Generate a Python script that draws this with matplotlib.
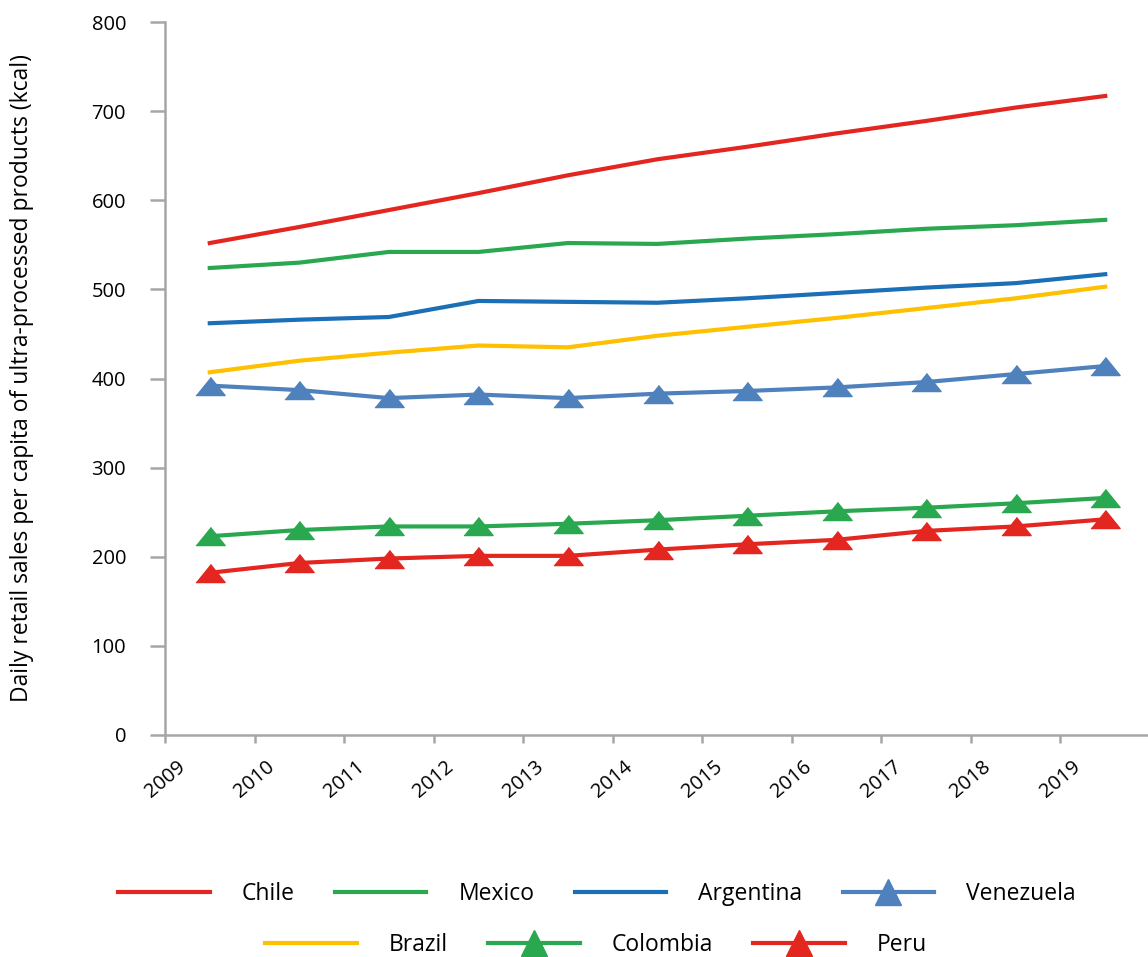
import matplotlib.pyplot as plt
from matplotlib.lines import Line2D
import numpy as np

plt.rcParams['font.family'] = ['Open Sans', 'DejaVu Sans']

years = [str(y) for y in range(2009, 2020)]

chile = [552, 570, 589, 608, 628, 646, 660, 675, 689, 704, 717]
mexico = [524, 530, 542, 542, 552, 551, 557, 562, 568, 572, 578]
argentina = [462, 466, 469, 487, 486, 485, 490, 496, 502, 507, 517]
venezuela = [392, 387, 378, 382, 378, 383, 386, 390, 396, 405, 414]
brazil = [407, 420, 429, 437, 435, 448, 458, 468, 479, 490, 503]
colombia = [223, 230, 234, 234, 237, 241, 246, 251, 255, 260, 266]
peru = [182, 193, 198, 201, 201, 208, 214, 219, 229, 234, 242]

RED = '#E3261F'
GREEN = '#2AA84F'
BLUE = '#1B6FB6'
STEEL = '#4F81BD'
GOLD = '#FFC000'
GRID = '#A6A6A6'

# wide, flat triangle used for the marked series
tri = [(-1, -0.62), (1, -0.62), (0, 0.62)]

fig = plt.figure(figsize=(11.48, 9.57), dpi=100)
ax = fig.add_axes([165 / 1148, 1 - 735 / 957, 985 / 1148, 713 / 957])

x = np.arange(len(years)) + 0.5
lw = 3.0
series = [
    ('Chile', chile, RED, None),
    ('Mexico', mexico, GREEN, None),
    ('Argentina', argentina, BLUE, None),
    ('Brazil', brazil, GOLD, None),
    ('Venezuela', venezuela, STEEL, tri),
    ('Colombia', colombia, GREEN, tri),
    ('Peru', peru, RED, tri),
]
handles = {}
for name, vals, col, mk in series:
    ax.plot(x, vals, color=col, lw=lw, marker=mk, ms=21, label=name)
    # legend keys use a taller triangle
    handles[name] = Line2D([], [], color=col, lw=lw,
                           marker='^' if mk is not None else None, ms=19)

ax.set_xlim(0, len(years))
ax.set_ylim(0, 800)
ax.set_yticks(range(0, 801, 100))
ax.set_xticks(np.arange(len(years)))
ax.set_xticklabels(years, rotation=40, ha='center', va='top', fontsize=14.5)
ax.tick_params(axis='y', labelsize=14.5, length=11, width=1.8, color=GRID, pad=17)
ax.tick_params(axis='x', length=6, width=1.8, color=GRID, pad=10)

for side in ['top', 'right']:
    ax.spines[side].set_visible(False)
for side in ['left', 'bottom']:
    ax.spines[side].set_color(GRID)
    ax.spines[side].set_linewidth(1.8)

ax.set_ylabel('Daily retail sales per capita of ultra-processed products (kcal)', fontsize=16.5)
ax.yaxis.label.set_va('center')
ax.yaxis.set_label_coords((22 - 165) / 985, 0.5)

leg_kw = dict(frameon=False, fontsize=16.5, handlelength=4.0, handletextpad=1.4,
              columnspacing=1.75, loc='center', borderpad=0)
row1 = ['Chile', 'Mexico', 'Argentina', 'Venezuela']
row2 = ['Brazil', 'Colombia', 'Peru']
fig.legend([handles[n] for n in row1], row1, ncol=4,
           bbox_to_anchor=(597 / 1148, 1 - 894 / 957), **leg_kw)
fig.legend([handles[n] for n in row2], row2, ncol=3,
           bbox_to_anchor=(596 / 1148, 1 - 945 / 957), **leg_kw)

fig.savefig('out.png', dpi=100)
